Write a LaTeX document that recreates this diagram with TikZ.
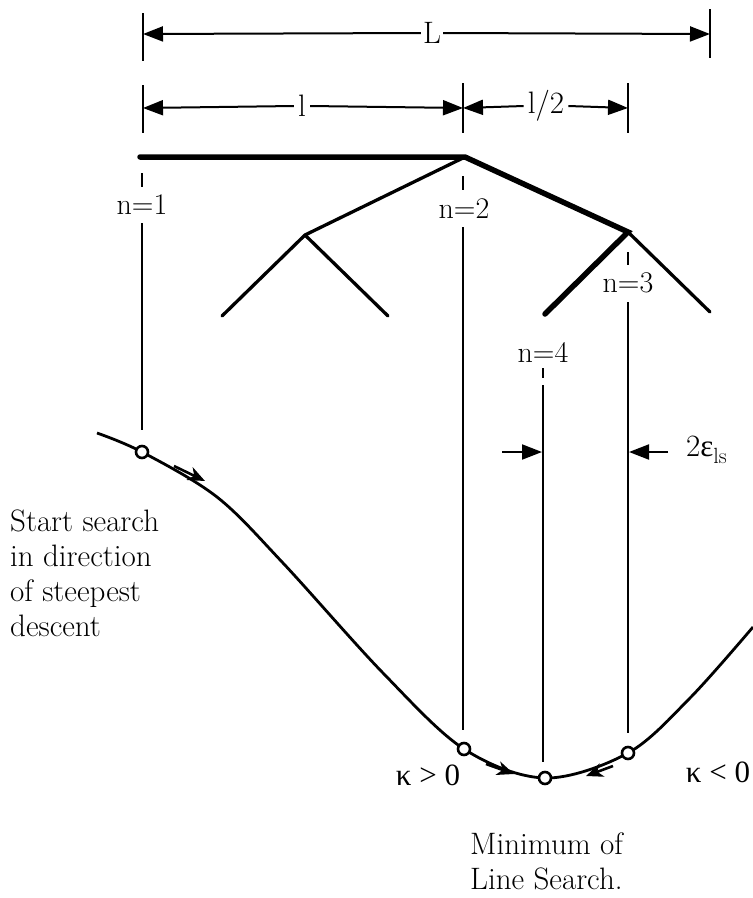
\documentclass[tikz,border=0pt]{standalone}
\usepackage{fontspec}
\newfontfamily\grk{Liberation Serif}
\usetikzlibrary{arrows.meta}
\begin{document}
\begin{tikzpicture}[x=1pt,y=-1pt,
  txt/.style={font=\fontsize{31}{35}\selectfont, inner sep=0pt},
  lab/.style={font=\fontsize{30}{34}\selectfont, inner sep=1pt},
  dim/.style={line width=2pt,-{Triangle[length=20pt,width=15pt]}},
  thick line/.style={line width=5.5pt, line cap=round, line join=miter},
  thin branch/.style={line width=3.3pt, line cap=round},
  vline/.style={line width=2.2pt},
  tick/.style={line width=2.2pt},
  dashseg/.style={line width=1.8pt},
  curve/.style={line width=2.8pt},
  probe/.style={circle, draw, line width=2.6pt, minimum size=12pt, inner sep=0pt, fill=white},
  barb/.style={line width=2.6pt,-{Stealth[length=17pt,width=14pt,inset=5pt]}}
]
\useasboundingbox (0,0) rectangle (753,898);

% ---------- dimension lines ----------
\coordinate (tL1a) at (143,13);  \coordinate (tL1b) at (143,61);
\coordinate (tL2a) at (710,9);   \coordinate (tL2b) at (710,58);
\draw[tick] (tL1a) -- (tL1b);
\draw[tick] (tL2a) -- (tL2b);
\coordinate (aL1) at (143,34); \coordinate (aL2) at (710,34);
\node[txt, inner sep=2pt] (Lab) at (432,33) {L};
\draw[dim] (Lab.west) -- (aL1);
\draw[dim] (Lab.east) -- (aL2);

\coordinate (t1a) at (143,85);  \coordinate (t1b) at (143,133);
\coordinate (t2a) at (463,83);  \coordinate (t2b) at (463,133);
\coordinate (t3a) at (628,83);  \coordinate (t3b) at (628,133);
\draw[tick] (t1a) -- (t1b);
\draw[tick] (t2a) -- (t2b);
\draw[tick] (t3a) -- (t3b);
\coordinate (a1) at (143,108); \coordinate (a2) at (463,108); \coordinate (a3) at (628,108);
\node[txt, inner sep=4pt] (lab1) at (302,106) {l};
\node[txt, inner sep=4pt] (lab2) at (546,106) {l/2};
\draw[dim] (lab1.west) -- (a1);
\draw[dim] (lab1.east) -- (a2);
\draw[dim] (lab2.west) -- (a2);
\draw[dim] (lab2.east) -- (a3);

% ---------- search tree ----------
\coordinate (r0) at (140,157);
\coordinate (r1) at (465,157);
\coordinate (j2) at (305,235);
\coordinate (j3) at (628,232);
\coordinate (b1) at (222,316);
\coordinate (b2) at (388,316);
\coordinate (b3) at (545,314);
\coordinate (b4) at (710,312);
\draw[thin branch] (r1) -- (j2);
\draw[thin branch] (j2) -- (b1);
\draw[thin branch] (j2) -- (b2);
\draw[thin branch] (j3) -- (b4);
\draw[thick line] (r0) -- (r1) -- (j3) -- (b3);

% ---------- curve ----------
\draw[curve] plot[smooth, tension=0.55] coordinates {
 (97,433) (142,452) (217,497) (283,563) (383,673)
 (464,749) (545,778) (628,753) (690,698) (753,627)};

% ---------- probes ----------
\node[probe] (c1) at (142,452) {};
\node[probe] (c2) at (464,749) {};
\node[probe] (c4) at (545,778) {};
\node[probe] (c3) at (628,753) {};

% ---------- labels and vertical lines ----------
\node[lab] (n1) at (142,205) {n=1};
\node[lab] (n2) at (464,209) {n=2};
\node[lab] (n3) at (628,283) {n=3};
\node[lab] (n4) at (543,352) {n=4};

\coordinate (d1a) at (142,173); \coordinate (d1b) at (142,187);
\coordinate (d2a) at (463,176); \coordinate (d2b) at (463,190);
\coordinate (d3a) at (628,252); \coordinate (d3b) at (628,265);
\coordinate (d4a) at (543,368); \coordinate (d4b) at (543,378);
\draw[dashseg] (d1a) -- (d1b);
\draw[dashseg] (d2a) -- (d2b);
\draw[dashseg] (d3a) -- (d3b);
\draw[dashseg] (d4a) -- (d4b);

\coordinate (v1a) at (142,223); \coordinate (v1b) at (142,430);
\coordinate (v2a) at (463,227); \coordinate (v2b) at (463,730);
\coordinate (v3a) at (628,302); \coordinate (v3b) at (628,733);
\coordinate (v4a) at (543,385); \coordinate (v4b) at (543,762);
\draw[vline] (v1a) -- (v1b);
\draw[vline] (v2a) -- (v2b);
\draw[vline] (v3a) -- (v3b);
\draw[vline] (v4a) -- (v4b);

% ---------- 2 eps arrows ----------
\coordinate (e1s) at (502,452); \coordinate (e1e) at (542,452);
\coordinate (e2s) at (668,452); \coordinate (e2e) at (629,452);
\draw[dim] (e1s) -- (e1e);
\draw[dim] (e2s) -- (e2e);
\node[txt, anchor=west] (eps) at (686,450) {2{\grk ε}\raisebox{-7pt}{\fontsize{22}{22}\selectfont ls}};

% ---------- direction barbs on curve ----------
\coordinate (g1s) at (174,466); \coordinate (g1e) at (205,481);
\coordinate (g2s) at (486,764); \coordinate (g2e) at (514,774);
\coordinate (g3s) at (613,766); \coordinate (g3e) at (586,776);
\draw[barb] (g1s) -- (g1e);
\draw[barb] (g2s) -- (g2e);
\draw[barb] (g3s) -- (g3e);

% ---------- texts ----------
\node[txt, align=left, anchor=north west] (start) at (10,510)
  {Start search\\in direction\\of steepest\\descent};
\node[txt, font=\grk\fontsize{31}{35}\selectfont] (kpos) at (428,775) {κ > 0};
\node[txt, font=\grk\fontsize{31}{35}\selectfont] (kneg) at (718,772) {κ < 0};
\node[txt, align=left, anchor=north west] (minls) at (470,833)
  {Minimum of\\Line Search.};
\end{tikzpicture}
\end{document}
